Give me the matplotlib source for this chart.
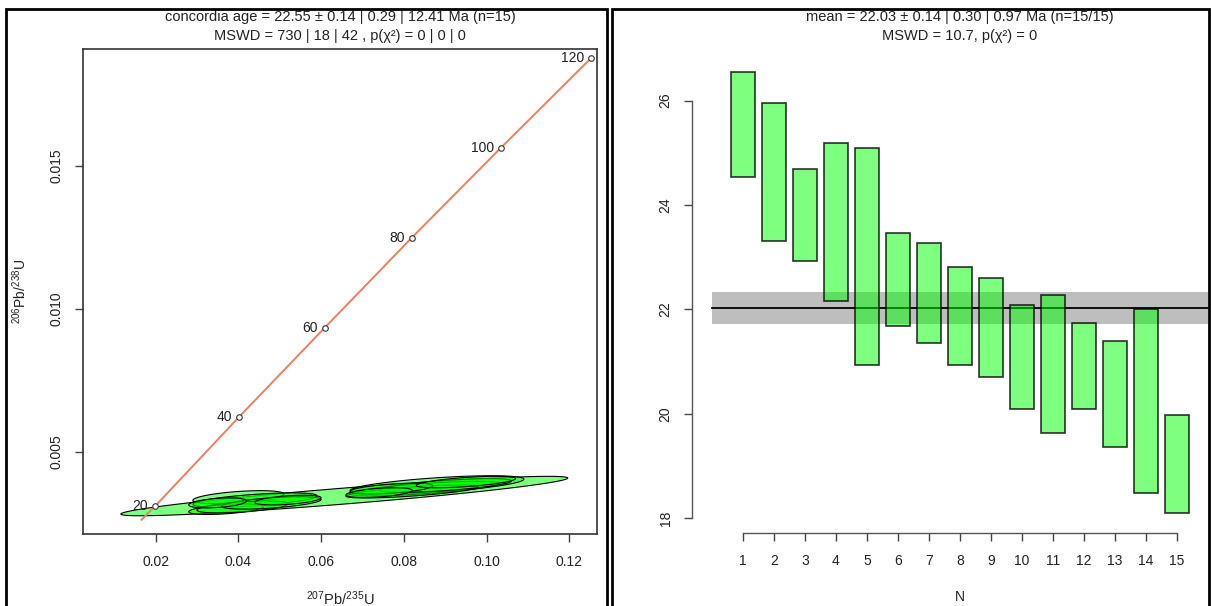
import numpy as np
import matplotlib
matplotlib.use("Agg")
import matplotlib.pyplot as plt
from matplotlib.patches import Rectangle

plt.rcParams['font.family'] = ['Liberation Sans', 'DejaVu Sans']
plt.rcParams['mathtext.fontset'] = 'custom'
plt.rcParams['mathtext.rm'] = 'Liberation Sans'
plt.rcParams['mathtext.it'] = 'Liberation Sans:italic'

# --- concordia diagram data ---
conc_age = [20, 40, 60, 80, 100, 120]
conc_x = [0.0199, 0.0402, 0.0609, 0.0819, 0.1034, 0.1253]
conc_y = [0.00311, 0.00623, 0.00935, 0.01249, 0.01563, 0.01878]
conc_start_x = 0.0166
conc_start_y = 0.00263

# error ellipses: centre, half x-extent, half thickness, slope of long axis
ell_x = [0.0656, 0.040, 0.044, 0.037, 0.041, 0.048, 0.035, 0.052,
         0.088, 0.085, 0.082, 0.090, 0.077, 0.095, 0.074]
ell_y = [0.00346, 0.00342, 0.00332, 0.00300, 0.00308, 0.00322, 0.00322, 0.00332,
         0.00385, 0.00372, 0.00362, 0.00383, 0.00372, 0.00395, 0.00358]
ell_dx = [0.054, 0.011, 0.015, 0.009, 0.011, 0.012, 0.007, 0.008,
          0.021, 0.018, 0.016, 0.016, 0.010, 0.012, 0.008]
ell_h = [0.00028, 0.00020, 0.00020, 0.00016, 0.00018, 0.00018, 0.00016, 0.00015,
         0.00025, 0.00018, 0.00016, 0.00018, 0.00016, 0.00016, 0.00015]
ell_slope = [0.01166, 0.010, 0.010, 0.010, 0.010, 0.010, 0.010, 0.010,
             0.0095, 0.010, 0.010, 0.010, 0.010, 0.010, 0.010]

# --- weighted mean data ---
n_idx = list(range(1, 16))
age_hi = [26.54, 25.96, 24.70, 25.18, 25.10, 23.47, 23.28, 22.82, 22.61, 22.09,
          22.28, 21.74, 21.40, 22.00, 19.98]
age_lo = [24.53, 23.31, 22.92, 22.17, 20.94, 21.69, 21.36, 20.94, 20.71, 20.09,
          19.64, 20.09, 19.37, 18.48, 18.10]
mean_age = 22.03
mean_err = 0.30

W, H = 1211, 606
fig = plt.figure(figsize=(W / 100, H / 100), dpi=100)

def frac(x0, y0, x1, y1):
    return [x0 / W, 1 - y1 / H, (x1 - x0) / W, (y1 - y0) / H]

tcol = '#222222'
fs = 10
fst = 10.5

# ================= left: concordia =================
ax1 = fig.add_axes(frac(83, 49, 597, 534))
t = np.linspace(0, 2 * np.pi, 200)
for cx, cy, dx, h, s in zip(ell_x, ell_y, ell_dx, ell_h, ell_slope):
    ex = cx + dx * np.cos(t)
    ey = cy + s * dx * np.cos(t) + h * np.sin(t)
    ax1.fill(ex, ey, facecolor=(0, 1, 0, 0.5), edgecolor='black', lw=0.8, zorder=2)

ax1.plot([conc_start_x] + conc_x, [conc_start_y] + conc_y, color='#EE8060', lw=1.4, zorder=3)
ax1.plot(conc_x, conc_y, 'o', ms=4, mfc='white', mec='#333333', mew=0.8, zorder=4)
for a, x, y in zip(conc_age, conc_x, conc_y):
    ax1.annotate(str(a), (x, y), xytext=(-5, 0), textcoords='offset points',
                 ha='right', va='center', fontsize=fs, color=tcol, zorder=5)

ax1.set_xlim(0.00246, 0.12667)
ax1.set_ylim(0.002133, 0.01909)
ax1.set_xticks([0.02, 0.04, 0.06, 0.08, 0.10, 0.12])
ax1.set_xticklabels(['0.02', '0.04', '0.06', '0.08', '0.10', '0.12'])
ax1.set_yticks([0.005, 0.010, 0.015])
ax1.set_yticklabels(['0.005', '0.010', '0.015'], rotation=90, va='center')
ax1.tick_params(direction='out', length=6, width=1, colors='#444444',
                labelcolor=tcol, labelsize=fs)
ax1.tick_params(axis='x', pad=9)
ax1.tick_params(axis='y', pad=8)
for sp in ax1.spines.values():
    sp.set_color('#333333')
    sp.set_linewidth(1.2)

fig.text(20 / W, 1 - 291 / H, r'$^{206}$Pb/$^{238}$U', rotation=90,
         ha='center', va='center', fontsize=10, color=tcol)
fig.text(340 / W, 1 - 599 / H, r'$^{207}$Pb/$^{235}$U',
         ha='center', va='center', fontsize=10.5, color=tcol)
fig.text(340 / W, 1 - 17 / H, 'concordia age = 22.55 ± 0.14 | 0.29 | 12.41 Ma (n=15)',
         ha='center', va='center', fontsize=fst, color=tcol)
fig.text(340 / W, 1 - 36 / H, 'MSWD = 730 | 18 | 42 , p(χ²) = 0 | 0 | 0',
         ha='center', va='center', fontsize=fst, color=tcol)

# ================= right: weighted mean =================
ax2 = fig.add_axes(frac(692, 50, 1228, 533))
ax2.fill_between([0, 16], mean_age - mean_err, mean_age + mean_err,
                 color='#BEBEBE', lw=0, zorder=1)
ax2.plot([0, 16], [mean_age, mean_age], color='black', lw=1.3, zorder=2)
heights = [hi - lo for hi, lo in zip(age_hi, age_lo)]
ax2.bar(n_idx, heights, bottom=age_lo, width=0.8, color=(0, 1, 0, 0.5),
        edgecolor=(0, 0, 0, 0.8), lw=1.2, zorder=3)

ax2.set_xlim(-0.645, 16.645)
ax2.set_ylim(17.718, 26.971)
ax2.set_xticks(n_idx)
ax2.set_yticks([18, 20, 22, 24, 26])
ax2.set_yticklabels(['18', '20', '22', '24', '26'], rotation=90, va='center')
ax2.spines['top'].set_visible(False)
ax2.spines['right'].set_visible(False)
ax2.spines['left'].set_bounds(18, 26)
ax2.spines['bottom'].set_bounds(1, 15)
for sp in ('left', 'bottom'):
    ax2.spines[sp].set_color('#555555')
    ax2.spines[sp].set_linewidth(1.0)
ax2.tick_params(direction='out', length=6, width=1, colors='#444444',
                labelcolor=tcol, labelsize=fs)
ax2.tick_params(axis='x', pad=9)
ax2.tick_params(axis='y', pad=8)
ax2.patch.set_alpha(0)

fig.text(960 / W, 1 - 597 / H, 'N', ha='center', va='center', fontsize=fs, color=tcol)
fig.text(960 / W, 1 - 17 / H, 'mean = 22.03 ± 0.14 | 0.30 | 0.97 Ma (n=15/15)',
         ha='center', va='center', fontsize=fst, color=tcol)
fig.text(960 / W, 1 - 36 / H, 'MSWD = 10.7, p(χ²) = 0',
         ha='center', va='center', fontsize=fst, color=tcol)

# panel frames
for x0, x1 in ((6, 607), (612, 1209)):
    fig.add_artist(Rectangle((x0 / W, -0.02), (x1 - x0) / W, 1.02 - 9 / H,
                             transform=fig.transFigure, fill=False,
                             edgecolor='black', lw=2, zorder=10))

fig.savefig('out.png', dpi=100)
